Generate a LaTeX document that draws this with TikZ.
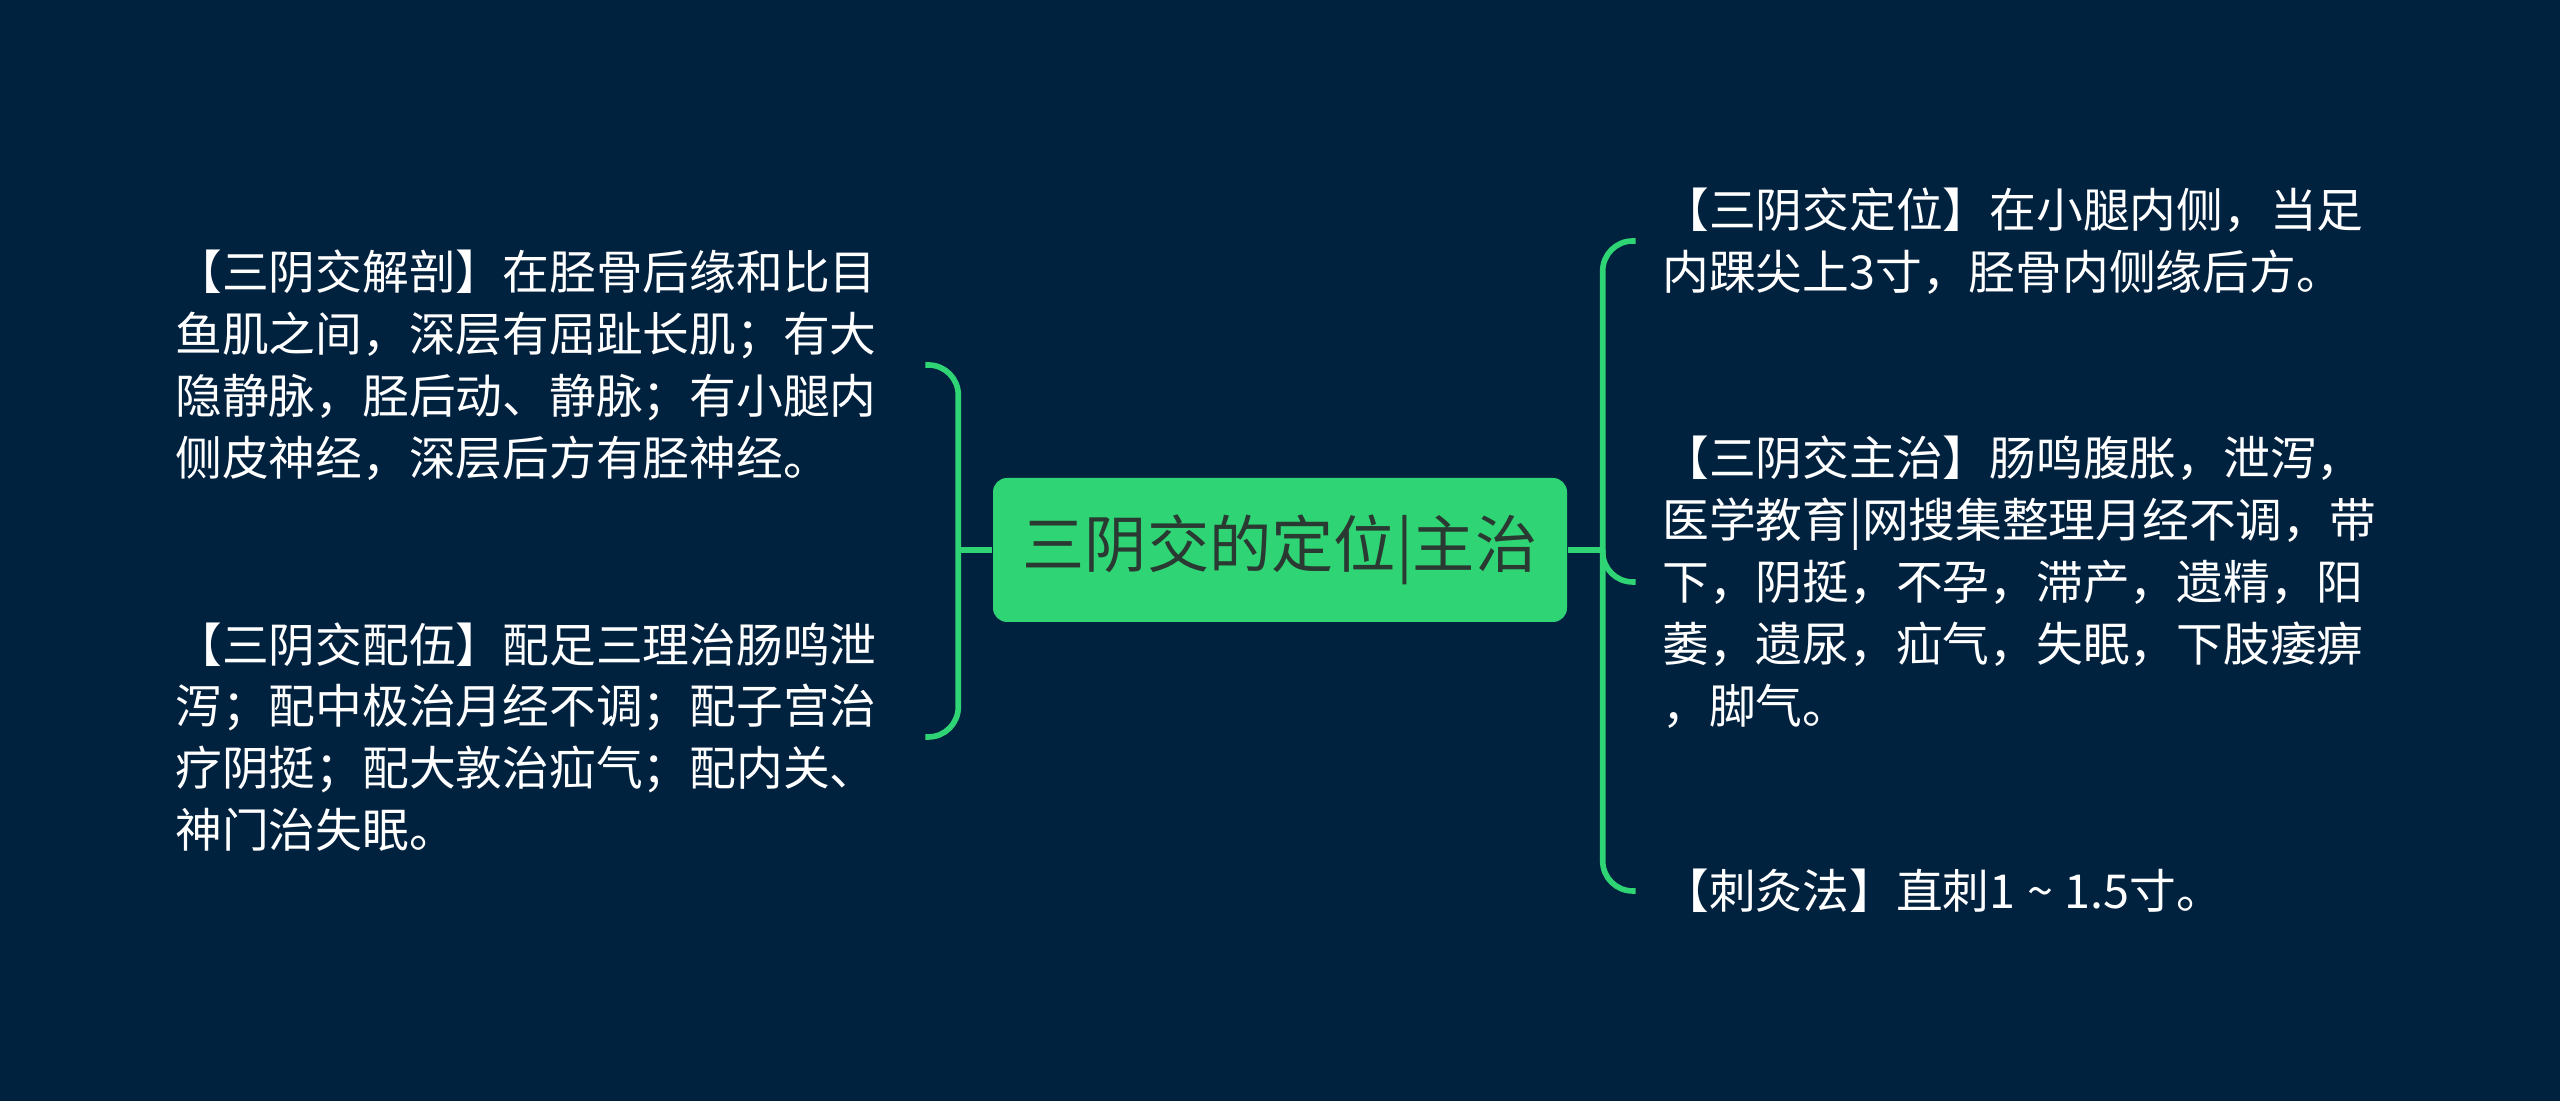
\documentclass[tikz,border=0pt]{standalone}
\usepackage{fontspec}
\setmainfont{Noto Sans CJK SC}
\usetikzlibrary{positioning}
\definecolor{mapBack} {HTML}{01223F}
\definecolor{mapGreen}{HTML}{2FD574}
\definecolor{mapInk}  {HTML}{2A3A33}

\begin{document}
\begin{tikzpicture}[
        every node/.style={font=\fontsize{13.3}{17.6}\selectfont},
        hub/.style={fill=mapGreen, rounded corners=0.14cm, minimum width=5.74cm, minimum height=1.44cm, text=mapInk, font=\fontsize{17.7}{20}\selectfont},
        leaf/.style={text=white, align=left, inner ysep=0pt},
        leafL/.style={leaf, inner xsep=0.48cm},
        leafR/.style={leaf, inner xsep=0.26cm},
        br/.style={mapGreen, line width=1.6pt, rounded corners=0.3cm}
    ]
        \fill[mapBack] (0,0) rectangle (25.6,11.01);
        \node[hub] (root) at (12.8,5.51) {三阴交的定位|主治};
        % left side
        \node[leafL, left=0.67cm of root, yshift=1.85cm] (ana) {【三阴交解剖】在胫骨后缘和比目\\鱼肌之间，深层有屈趾长肌；有大\\隐静脉，胫后动、静脉；有小腿内\\侧皮神经，深层后方有胫神经。};
        \node[leafL, left=0.67cm of root, yshift=-1.87cm] (pei) {【三阴交配伍】配足三理治肠鸣泄\\泻；配中极治月经不调；配子宫治\\疗阴挺；配大敦治疝气；配内关、\\神门治失眠。};
        % right side
        \node[leafR, right=0.68cm of root, yshift=3.09cm] (dingwei) {【三阴交定位】在小腿内侧，当足\\内踝尖上3寸，胫骨内侧缘后方。};
        \node[leafR, right=0.68cm of root, yshift=-0.32cm] (zhuzhi) {【三阴交主治】肠鸣腹胀，泄泻，\\医学教育|网搜集整理月经不调，带\\下，阴挺，不孕，滞产，遗精，阳\\萎，遗尿，疝气，失眠，下肢痿痹\\，脚气。};
        \node[leafR, right=0.68cm of root, yshift=-3.41cm] (cijiu) {【刺灸法】直刺1\hspace{0.25em}\textasciitilde\hspace{0.25em}1.5寸。};
        \coordinate[left=0.34cm of root.west] (lspine);
        \coordinate[right=0.35cm of root.east] (rspine);
        \draw[br] (root.west) -- (lspine);
        \draw[br] (ana.east) -| (lspine) |- (pei.east);
        \draw[br] (root.east) -- (rspine);
        \draw[br] (dingwei.west) -| (rspine) |- (cijiu.west);
        \draw[br] (rspine) |- (zhuzhi.west);
    \end{tikzpicture}
\end{document}
